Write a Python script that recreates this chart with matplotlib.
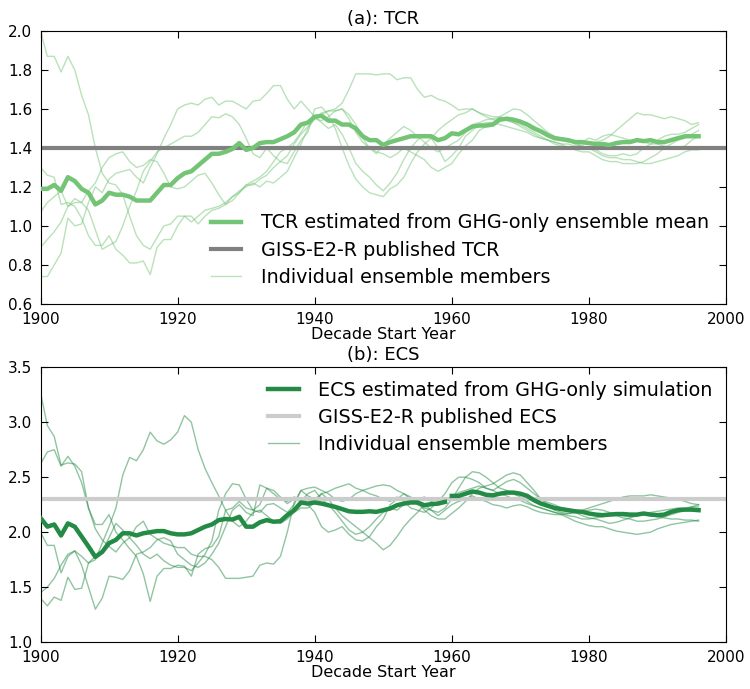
import numpy as np
import matplotlib
matplotlib.use('Agg')
import matplotlib.pyplot as plt

years = np.arange(1900, 1997)

tcr_mean = [1.19, 1.19, 1.21, 1.18, 1.25, 1.23, 1.19, 1.17, 1.11, 1.13,
            1.17, 1.16, 1.16, 1.15, 1.13, 1.13, 1.13, 1.17, 1.21, 1.21,
            1.245, 1.27, 1.28, 1.31, 1.34, 1.37, 1.37, 1.38, 1.395, 1.425,
            1.39, 1.40, 1.425, 1.43, 1.43, 1.445, 1.46, 1.48, 1.52, 1.53,
            1.56, 1.565, 1.54, 1.54, 1.52, 1.52, 1.50, 1.46, 1.44, 1.44,
            1.415, 1.43, 1.44, 1.45, 1.46, 1.46, 1.46, 1.46, 1.44, 1.45,
            1.475, 1.47, 1.49, 1.51, 1.515, 1.515, 1.52, 1.545, 1.55, 1.545,
            1.535, 1.52, 1.50, 1.485, 1.465, 1.45, 1.445, 1.44, 1.43, 1.43,
            1.425, 1.42, 1.42, 1.415, 1.425, 1.43, 1.43, 1.44, 1.435, 1.44,
            1.43, 1.43, 1.44, 1.45, 1.46, 1.46, 1.46]

tcr_m1 = [2.00, 1.87, 1.87, 1.79, 1.87, 1.80, 1.67, 1.57, 1.40, 1.27,
          1.22, 1.21, 1.16, 1.05, 0.95, 0.90, 0.88, 0.94, 1.00, 1.01,
          1.05, 1.05, 1.02, 1.05, 1.08, 1.09, 1.10, 1.12, 1.15, 1.17,
          1.21, 1.21, 1.24, 1.26, 1.30, 1.33, 1.36, 1.42, 1.47, 1.51,
          1.55, 1.58, 1.59, 1.60, 1.63, 1.70, 1.78, 1.78, 1.78, 1.775,
          1.78, 1.78, 1.75, 1.76, 1.76, 1.70, 1.66, 1.67, 1.65, 1.64,
          1.62, 1.595, 1.60, 1.60, 1.58, 1.57, 1.56, 1.56, 1.55, 1.55,
          1.54, 1.53, 1.51, 1.49, 1.47, 1.45, 1.44, 1.43, 1.43, 1.42,
          1.42, 1.43, 1.44, 1.46, 1.49, 1.52, 1.55, 1.58, 1.57, 1.57,
          1.56, 1.55, 1.56, 1.55, 1.54, 1.52, 1.53]
tcr_m2 = [1.30, 1.26, 1.25, 1.11, 1.12, 1.10, 1.04, 0.95, 0.90, 0.90,
          0.95, 0.88, 0.85, 0.81, 0.81, 0.82, 0.75, 0.89, 0.93, 0.93,
          1.00, 1.05, 1.05, 1.01, 1.05, 1.08, 1.09, 1.11, 1.15, 1.18,
          1.20, 1.22, 1.20, 1.23, 1.22, 1.25, 1.28, 1.35, 1.42, 1.50,
          1.55, 1.54, 1.56, 1.59, 1.60, 1.55, 1.48, 1.43, 1.40, 1.38,
          1.37, 1.35, 1.37, 1.40, 1.38, 1.36, 1.34, 1.30, 1.28, 1.30,
          1.32, 1.37, 1.41, 1.44, 1.49, 1.51, 1.53, 1.56, 1.58, 1.60,
          1.595, 1.57, 1.54, 1.51, 1.48, 1.46, 1.45, 1.44, 1.42, 1.41,
          1.40, 1.38, 1.36, 1.35, 1.35, 1.34, 1.34, 1.33, 1.32, 1.32,
          1.33, 1.34, 1.35, 1.36, 1.38, 1.39, 1.39]
tcr_m3 = [1.07, 1.12, 1.15, 1.18, 1.10, 1.12, 1.12, 1.08, 0.98, 0.88,
          0.90, 0.92, 1.00, 1.10, 1.18, 1.28, 1.33, 1.38, 1.40, 1.42,
          1.44, 1.46, 1.46, 1.48, 1.52, 1.56, 1.555, 1.575, 1.56, 1.52,
          1.45, 1.37, 1.35, 1.40, 1.36, 1.33, 1.32, 1.38, 1.44, 1.48,
          1.60, 1.61, 1.57, 1.50, 1.40, 1.31, 1.24, 1.20, 1.17, 1.16,
          1.15, 1.19, 1.21, 1.25, 1.32, 1.38, 1.42, 1.45, 1.49, 1.52,
          1.545, 1.57, 1.58, 1.60, 1.58, 1.56, 1.545, 1.54, 1.55, 1.53,
          1.51, 1.49, 1.47, 1.45, 1.44, 1.43, 1.42, 1.42, 1.41, 1.41,
          1.40, 1.39, 1.37, 1.36, 1.36, 1.37, 1.36, 1.37, 1.40, 1.42,
          1.44, 1.46, 1.47, 1.47, 1.48, 1.50, 1.52]
tcr_m4 = [0.89, 0.93, 0.97, 1.02, 1.10, 1.14, 1.12, 1.18, 1.22, 1.30,
          1.35, 1.37, 1.38, 1.33, 1.30, 1.31, 1.34, 1.33, 1.27, 1.20,
          1.19, 1.20, 1.23, 1.26, 1.27, 1.22, 1.16, 1.11, 1.13, 1.17,
          1.21, 1.23, 1.25, 1.28, 1.33, 1.38, 1.40, 1.43, 1.48, 1.54,
          1.56, 1.57, 1.59, 1.59, 1.60, 1.57, 1.52, 1.45, 1.40, 1.37,
          1.42, 1.45, 1.48, 1.51, 1.49, 1.46, 1.43, 1.40, 1.38, 1.40,
          1.42, 1.44, 1.48, 1.52, 1.53, 1.545, 1.55, 1.555, 1.54, 1.53,
          1.52, 1.50, 1.48, 1.46, 1.44, 1.42, 1.41, 1.40, 1.40, 1.43,
          1.45, 1.44, 1.46, 1.47, 1.46, 1.45, 1.44, 1.44, 1.43, 1.42,
          1.42, 1.41, 1.40, 1.40, 1.41, 1.44, 1.46]
tcr_m5 = [0.74, 0.74, 0.80, 0.86, 1.04, 1.00, 1.01, 1.12, 1.20, 1.17,
          1.24, 1.27, 1.28, 1.29, 1.25, 1.22, 1.30, 1.37, 1.45, 1.52,
          1.60, 1.62, 1.63, 1.62, 1.65, 1.66, 1.62, 1.64, 1.64, 1.62,
          1.60, 1.64, 1.645, 1.68, 1.72, 1.72, 1.65, 1.60, 1.64, 1.60,
          1.56, 1.53, 1.50, 1.52, 1.47, 1.40, 1.32, 1.28, 1.25, 1.21,
          1.18, 1.22, 1.27, 1.34, 1.40, 1.44, 1.47, 1.45, 1.40, 1.33,
          1.36, 1.40, 1.46, 1.49, 1.52, 1.53, 1.53, 1.52, 1.51, 1.50,
          1.49, 1.48, 1.46, 1.45, 1.44, 1.43, 1.42, 1.40, 1.39, 1.38,
          1.38, 1.36, 1.34, 1.33, 1.33, 1.32, 1.32, 1.32, 1.33, 1.35,
          1.37, 1.40, 1.42, 1.44, 1.45, 1.47, 1.49]
tcr_published = 1.4

ecs_mean = [2.13, 2.05, 2.07, 1.97, 2.08, 2.05, 1.96, 1.87, 1.775, 1.82,
            1.90, 1.93, 1.99, 1.99, 1.97, 1.99, 2.00, 2.01, 2.01, 1.99,
            1.98, 1.98, 1.99, 2.02, 2.05, 2.07, 2.11, 2.12, 2.115, 2.14,
            2.05, 2.05, 2.09, 2.11, 2.095, 2.10, 2.155, 2.20, 2.27, 2.26,
            2.27, 2.26, 2.245, 2.23, 2.21, 2.19, 2.185, 2.185, 2.19, 2.185,
            2.20, 2.215, 2.245, 2.26, 2.27, 2.27, 2.245, 2.255, 2.26, 2.275,
            2.33, 2.33, 2.35, 2.37, 2.36, 2.34, 2.335, 2.35, 2.36, 2.36,
            2.35, 2.33, 2.29, 2.26, 2.24, 2.22, 2.21, 2.20, 2.19, 2.185,
            2.17, 2.16, 2.155, 2.16, 2.165, 2.165, 2.16, 2.16, 2.17, 2.16,
            2.155, 2.16, 2.185, 2.20, 2.205, 2.205, 2.20]

ecs_m1 = [3.27, 2.97, 2.87, 2.61, 2.63, 2.62, 2.55, 2.22, 2.07, 2.07,
          2.16, 2.00, 1.93, 1.85, 1.78, 1.62, 1.37, 1.60, 1.67, 1.67,
          1.70, 1.69, 1.60, 1.80, 1.85, 1.87, 1.96, 2.20, 2.22, 2.28,
          2.22, 2.20, 2.18, 2.25, 2.26, 2.22, 2.18, 2.25, 2.38, 2.33,
          2.30, 2.35, 2.37, 2.40, 2.42, 2.44, 2.40, 2.38, 2.35, 2.33,
          2.30, 2.28, 2.32, 2.28, 2.22, 2.20, 2.18, 2.22, 2.28, 2.35,
          2.45, 2.50, 2.50, 2.48, 2.45, 2.40, 2.38, 2.35, 2.33, 2.30,
          2.29, 2.26, 2.24, 2.22, 2.20, 2.18, 2.17, 2.15, 2.14, 2.12,
          2.12, 2.13, 2.14, 2.15, 2.15, 2.13, 2.12, 2.10, 2.10, 2.11,
          2.12, 2.14, 2.16, 2.18, 2.20, 2.23, 2.25]
ecs_m2 = [2.62, 2.73, 2.75, 2.60, 2.69, 2.60, 2.45, 2.22, 2.03, 1.93,
          1.87, 1.82, 1.90, 1.95, 2.05, 2.10, 1.98, 1.94, 1.90, 1.88,
          1.86, 1.86, 1.80, 1.78, 1.78, 1.75, 1.68, 1.58, 1.58, 1.58,
          1.59, 1.60, 1.70, 1.72, 1.71, 1.78, 2.00, 2.27, 2.38, 2.40,
          2.41, 2.38, 2.35, 2.30, 2.28, 2.30, 2.35, 2.38, 2.40, 2.42,
          2.43, 2.42, 2.38, 2.35, 2.30, 2.25, 2.22, 2.20, 2.18, 2.22,
          2.30, 2.40, 2.50, 2.55, 2.54, 2.50, 2.45, 2.40, 2.38, 2.35,
          2.32, 2.28, 2.24, 2.22, 2.20, 2.18, 2.16, 2.13, 2.10, 2.08,
          2.06, 2.05, 2.05, 2.03, 2.01, 2.00, 1.99, 1.98, 1.99, 2.00,
          2.03, 2.05, 2.07, 2.08, 2.09, 2.10, 2.11]
ecs_m3 = [2.00, 1.88, 1.88, 1.63, 1.78, 1.83, 1.70, 1.50, 1.30, 1.40,
          1.60, 1.59, 1.57, 1.65, 1.80, 1.82, 1.86, 1.93, 1.95, 1.92,
          1.80, 1.75, 1.70, 1.68, 1.72, 1.80, 1.90, 2.05, 2.20, 2.25,
          2.18, 2.15, 2.43, 2.40, 2.35, 2.30, 2.28, 2.32, 2.30, 2.25,
          2.18, 2.05, 2.00, 2.02, 2.05, 1.98, 1.93, 1.92, 1.96, 2.05,
          2.12, 2.25, 2.30, 2.35, 2.32, 2.28, 2.20, 2.15, 2.12, 2.12,
          2.17, 2.22, 2.28, 2.35, 2.40, 2.42, 2.44, 2.48, 2.52, 2.54,
          2.52, 2.45, 2.38, 2.30, 2.25, 2.20, 2.18, 2.17, 2.18, 2.19,
          2.20, 2.21, 2.20, 2.18, 2.16, 2.15, 2.14, 2.15, 2.16, 2.15,
          2.14, 2.13, 2.12, 2.12, 2.11, 2.11, 2.10]
ecs_m4 = [1.45, 1.50, 1.58, 1.70, 1.80, 1.83, 1.78, 1.72, 1.75, 1.90,
          2.05, 2.22, 2.52, 2.68, 2.65, 2.75, 2.91, 2.83, 2.80, 2.84,
          2.91, 3.06, 3.00, 2.75, 2.58, 2.45, 2.33, 2.20, 2.10, 2.05,
          2.10, 2.18, 2.20, 2.15, 2.10, 2.08, 2.12, 2.18, 2.22, 2.22,
          2.27, 2.35, 2.30, 2.22, 2.15, 2.10, 2.05, 2.00, 1.95, 1.90,
          1.84, 1.88, 1.96, 2.05, 2.12, 2.18, 2.25, 2.20, 2.15, 2.20,
          2.25, 2.28, 2.30, 2.33, 2.30, 2.28, 2.25, 2.24, 2.22, 2.24,
          2.25, 2.23, 2.20, 2.18, 2.17, 2.16, 2.16, 2.17, 2.18, 2.20,
          2.22, 2.24, 2.26, 2.28, 2.30, 2.32, 2.33, 2.33, 2.33, 2.34,
          2.33, 2.32, 2.31, 2.30, 2.28, 2.26, 2.25]
ecs_m5 = [1.40, 1.33, 1.41, 1.38, 1.59, 1.48, 1.49, 1.72, 1.78, 1.83,
          1.95, 2.08, 2.02, 1.95, 1.88, 1.80, 1.76, 1.80, 1.74, 1.70,
          1.68, 1.68, 1.65, 1.72, 1.80, 1.92, 2.20, 2.35, 2.44, 2.43,
          2.30, 2.20, 2.25, 2.40, 2.38, 2.32, 2.26, 2.30, 2.28, 2.35,
          2.38, 2.30, 2.25, 2.18, 2.10, 2.02, 1.98, 2.00, 2.05, 2.12,
          2.18, 2.22, 2.20, 2.25, 2.28, 2.30, 2.32, 2.28, 2.25, 2.28,
          2.32, 2.36, 2.38, 2.40, 2.42, 2.40, 2.38, 2.42, 2.46, 2.48,
          2.45, 2.40, 2.35, 2.30, 2.27, 2.25, 2.22, 2.20, 2.18, 2.15,
          2.13, 2.12, 2.10, 2.08, 2.09, 2.11, 2.13, 2.15, 2.17, 2.18,
          2.19, 2.20, 2.21, 2.22, 2.22, 2.23, 2.23]
ecs_published = 2.3

light_green = '#74c476'
dark_green = '#238b45'

plt.rcParams['font.family'] = 'DejaVu Sans'
plt.rcParams['xtick.direction'] = 'in'
plt.rcParams['ytick.direction'] = 'in'
plt.rcParams['xtick.top'] = True
plt.rcParams['ytick.right'] = True
plt.rcParams['xtick.major.size'] = 5
plt.rcParams['ytick.major.size'] = 5

fig = plt.figure(figsize=(7.5, 6.89), dpi=100)
ax1 = fig.add_axes([0.054, 0.559, 0.914, 0.396])
ax2 = fig.add_axes([0.054, 0.068, 0.914, 0.399])

legend_kw = dict(frameon=False, fontsize=13.8, handlelength=1.6,
                 handletextpad=1.0, labelspacing=0.42)

# (a) TCR
ax1.plot(years, tcr_mean, color=light_green, lw=3.2,
         label='TCR estimated from GHG-only ensemble mean', zorder=3)
ax1.axhline(tcr_published, color='gray', lw=3, label='GISS-E2-R published TCR', zorder=2)
for i, m in enumerate([tcr_m1, tcr_m2, tcr_m3, tcr_m4, tcr_m5]):
    ax1.plot(years, m, color=light_green, lw=1, alpha=0.5,
             label='Individual ensemble members' if i == 0 else None, zorder=1)
ax1.set_xlim(1900, 2000)
ax1.set_ylim(0.6, 2.0)
ax1.set_yticks(np.arange(0.6, 2.01, 0.2))
ax1.set_title('(a): TCR', fontsize=13, pad=5)
ax1.set_xlabel('Decade Start Year', fontsize=11.5, labelpad=0)
ax1.legend(loc='lower right', borderaxespad=0.5, **legend_kw)

# (b) ECS
ax2.plot(years[:60], ecs_mean[:60], color=dark_green, lw=3.2,
         label='ECS estimated from GHG-only simulation', zorder=3)
ax2.plot(years[60:], ecs_mean[60:], color=dark_green, lw=3.2, zorder=3)
ax2.axhline(ecs_published, color='#cccccc', lw=3, label='GISS-E2-R published ECS', zorder=2)
for i, m in enumerate([ecs_m1, ecs_m2, ecs_m3, ecs_m4, ecs_m5]):
    ax2.plot(years, m, color=dark_green, lw=1, alpha=0.5,
             label='Individual ensemble members' if i == 0 else None, zorder=1)
ax2.set_xlim(1900, 2000)
ax2.set_ylim(1.0, 3.5)
ax2.set_yticks(np.arange(1.0, 3.51, 0.5))
ax2.set_title('(b): ECS', fontsize=13, pad=5)
ax2.set_xlabel('Decade Start Year', fontsize=11.5, labelpad=0)
ax2.legend(loc='upper right', borderaxespad=0.3, **legend_kw)

for ax in (ax1, ax2):
    ax.tick_params(labelsize=11, pad=6)
    ax.yaxis.set_major_formatter(matplotlib.ticker.FormatStrFormatter('%.1f'))

fig.savefig('out.png', dpi=100)
